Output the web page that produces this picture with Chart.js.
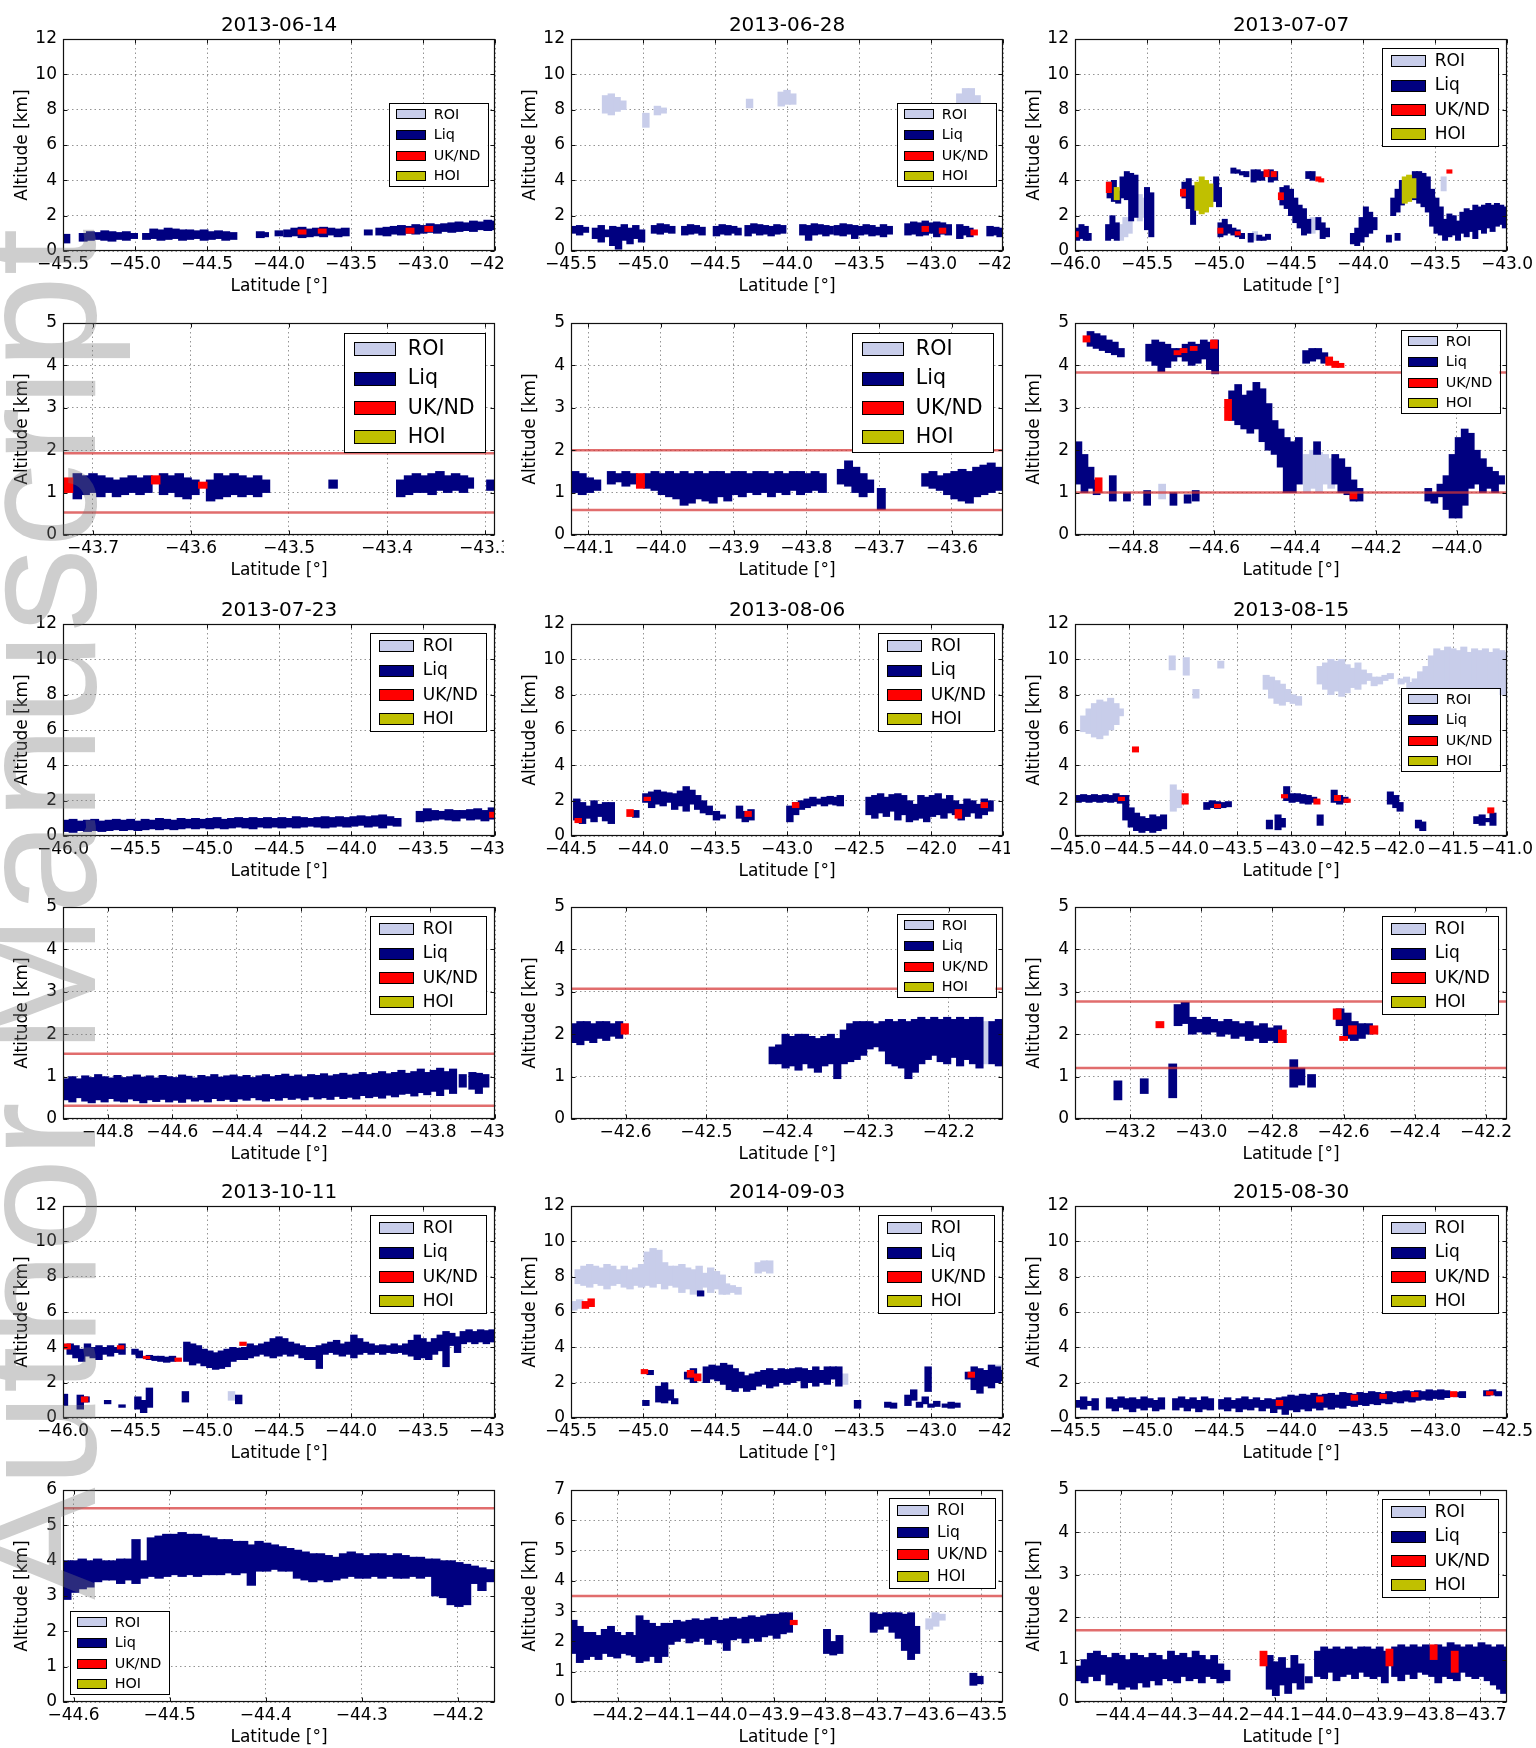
<!DOCTYPE html>
<html>
<head>
<meta charset="utf-8">
<title>Cloud phase classification along the flight tracks</title>
<script src="https://cdn.jsdelivr.net/npm/chart.js@4.4.1/dist/chart.umd.min.js"></script>
<style>
  html, body { margin: 0; padding: 0; background: #ffffff; }
  #page { position: relative; width: 1536px; height: 1748px; overflow: hidden; background: #ffffff; }
  #page canvas { position: absolute; }
  #wm {
    position: absolute; left: -48px; top: 1600px;
    transform-origin: 0 0; transform: rotate(-90deg);
    font-family: 'Liberation Sans', Arial, sans-serif; font-size: 169px; line-height: 1;
    color: rgba(120, 120, 120, 0.36); white-space: nowrap; pointer-events: none;
  }
</style>
</head>
<body>
<div id="page"><div id="wm">Author Manuscript</div></div>
<script>
// ---------------------------------------------------------------------------
// Panel descriptions: titles, axis ranges, tick values, reference altitudes
// ---------------------------------------------------------------------------
const PANEL_TITLES = ['2013-06-14', '2013-06-28', '2013-07-07', '', '', '',
                      '2013-07-23', '2013-08-06', '2013-08-15', '', '', '',
                      '2013-10-11', '2014-09-03', '2015-08-30', '', '', ''];

const X_MIN = [-45.5, -45.5, -46.0, -43.7306, -44.1234, -44.9434,
               -46.0, -44.5, -45.0, -44.939, -42.6676, -43.3545,
               -46.0, -45.5, -45.5, -44.611, -44.29, -44.4887];
const X_MAX = [-42.5, -42.5, -43.0, -43.2898, -43.5298, -43.8754,
               -43.0, -41.5, -41.0, -43.600, -42.1329, -42.141,
               -43.0, -42.5, -42.5, -44.1614, -43.458, -43.6483];

const X_TICKS = [
  [-45.5, -45.0, -44.5, -44.0, -43.5, -43.0, -42.5],
  [-45.5, -45.0, -44.5, -44.0, -43.5, -43.0, -42.5],
  [-46.0, -45.5, -45.0, -44.5, -44.0, -43.5, -43.0],
  [-43.7, -43.6, -43.5, -43.4, -43.3],
  [-44.1, -44.0, -43.9, -43.8, -43.7, -43.6],
  [-44.8, -44.6, -44.4, -44.2, -44.0],
  [-46.0, -45.5, -45.0, -44.5, -44.0, -43.5, -43.0],
  [-44.5, -44.0, -43.5, -43.0, -42.5, -42.0, -41.5],
  [-45.0, -44.5, -44.0, -43.5, -43.0, -42.5, -42.0, -41.5, -41.0],
  [-44.8, -44.6, -44.4, -44.2, -44.0, -43.8, -43.6],
  [-42.6, -42.5, -42.4, -42.3, -42.2],
  [-43.2, -43.0, -42.8, -42.6, -42.4, -42.2],
  [-46.0, -45.5, -45.0, -44.5, -44.0, -43.5, -43.0],
  [-45.5, -45.0, -44.5, -44.0, -43.5, -43.0, -42.5],
  [-45.5, -45.0, -44.5, -44.0, -43.5, -43.0, -42.5],
  [-44.6, -44.5, -44.4, -44.3, -44.2],
  [-44.2, -44.1, -44.0, -43.9, -43.8, -43.7, -43.6, -43.5],
  [-44.4, -44.3, -44.2, -44.1, -44.0, -43.9, -43.8, -43.7]
];

const ALT_TICKS_12 = [0, 2, 4, 6, 8, 10, 12];
const ALT_TICKS_5 = [0, 1, 2, 3, 4, 5];
const ALT_TICKS_6 = [0, 1, 2, 3, 4, 5, 6];
const ALT_TICKS_7 = [0, 1, 2, 3, 4, 5, 6, 7];
const Y_TICKS = [ALT_TICKS_12, ALT_TICKS_12, ALT_TICKS_12, ALT_TICKS_5, ALT_TICKS_5, ALT_TICKS_5,
                 ALT_TICKS_12, ALT_TICKS_12, ALT_TICKS_12, ALT_TICKS_5, ALT_TICKS_5, ALT_TICKS_5,
                 ALT_TICKS_12, ALT_TICKS_12, ALT_TICKS_12, ALT_TICKS_6, ALT_TICKS_7, ALT_TICKS_5];

// reference altitudes (km) drawn as red horizontal lines in the zoomed panels
const REF_ALT = [[], [], [], [1.93, 0.53], [2.0, 0.59], [3.83, 1.0],
                 [], [], [], [1.54, 0.31], [3.07], [2.77, 1.2],
                 [], [], [], [5.48], [3.5], [1.69]];

const CLASS_LABELS = ['ROI', 'Liq', 'UK/ND', 'HOI'];

// ---------------------------------------------------------------------------
// Classified profile columns: [latitude, bottom km, top km]
// ---------------------------------------------------------------------------
// 2013-06-14
const p1_liq = [[-45.48,0.45,0.95],
  [-45.36,0.55,1.0],[-45.31,0.6,1.1],[-45.26,0.65,1.05],[-45.21,0.6,1.15],[-45.16,0.55,1.1],[-45.11,0.65,1.05],[-45.06,0.6,1.1],[-45.01,0.7,1.0],
  [-44.92,0.65,1.0],[-44.87,0.7,1.25],[-44.82,0.6,1.2],[-44.77,0.65,1.3],[-44.72,0.7,1.25],[-44.67,0.6,1.2],[-44.62,0.65,1.2],[-44.57,0.7,1.15],[-44.52,0.6,1.2],[-44.47,0.65,1.1],[-44.42,0.7,1.15],[-44.37,0.6,1.1],[-44.32,0.65,1.05],
  [-44.13,0.75,1.1],[-44.10,0.8,1.05],[-44.0,0.85,1.15],
  [-43.94,0.8,1.2],[-43.89,0.85,1.3],[-43.84,0.75,1.35],[-43.79,0.8,1.25],[-43.74,0.85,1.3],[-43.69,0.8,1.35],[-43.64,0.9,1.3],[-43.59,0.8,1.25],[-43.54,0.85,1.3],
  [-43.38,0.9,1.2],
  [-43.30,0.9,1.3],[-43.25,0.85,1.35],[-43.20,0.95,1.4],[-43.15,0.9,1.45],[-43.10,1.0,1.4],[-43.05,0.95,1.5],[-43.00,1.0,1.45],[-42.95,1.05,1.55],[-42.90,1.0,1.5],[-42.85,1.1,1.55],[-42.80,1.05,1.6],[-42.75,1.1,1.65],[-42.70,1.15,1.6],[-42.65,1.1,1.7],[-42.60,1.2,1.65],[-42.55,1.15,1.75],[-42.51,1.2,1.7]];
const p1_uk = [[-43.84,0.95,1.2],[-43.70,1.0,1.25],[-43.09,1.0,1.3],[-42.96,1.1,1.4]];

// 2013-06-28
const p2_roi = [[-45.26,7.8,8.8],[-45.22,7.7,8.9],[-45.18,7.9,8.7],[-45.14,8.0,8.5],[-44.98,7.0,7.8],[-44.90,7.7,8.2],[-44.86,7.8,8.1],
  [-44.26,8.1,8.6],[-44.04,8.2,9.0],[-44.00,8.3,9.1],[-43.96,8.3,8.9],[-42.80,8.3,8.9],[-42.76,8.3,9.2],[-42.72,8.3,9.2],[-42.68,8.3,8.8]];
const p2_liq = [[-45.48,1.0,1.4],[-45.44,0.9,1.45],[-45.40,1.05,1.35],
  [-45.33,0.7,1.3],[-45.29,0.5,1.45],[-45.25,0.8,1.2],[-45.21,0.3,1.4],[-45.17,0.1,1.35],[-45.13,0.6,1.5],[-45.09,0.4,1.3],[-45.05,0.7,1.45],[-45.01,0.5,1.2],
  [-44.92,1.0,1.45],[-44.88,0.95,1.55],[-44.84,1.05,1.5],[-44.80,1.0,1.4],
  [-44.71,0.9,1.4],[-44.67,0.95,1.5],[-44.63,1.0,1.45],[-44.59,0.9,1.35],
  [-44.49,0.85,1.4],[-44.45,0.95,1.5],[-44.41,0.9,1.45],[-44.37,1.0,1.4],[-44.34,0.9,1.3],
  [-44.27,0.85,1.45],[-44.23,1.0,1.55],[-44.19,0.9,1.5],[-44.15,0.95,1.45],[-44.11,0.85,1.4],[-44.07,0.95,1.5],[-44.03,1.0,1.45],
  [-43.89,0.9,1.5],[-43.85,0.6,1.45],[-43.81,0.9,1.55],[-43.77,0.95,1.5],[-43.73,0.85,1.45],[-43.70,0.95,1.4],
  [-43.65,0.9,1.45],[-43.61,0.85,1.55],[-43.57,0.95,1.5],[-43.53,0.7,1.45],[-43.49,0.9,1.4],[-43.45,0.95,1.5],[-43.41,0.85,1.45],[-43.37,0.9,1.35],[-43.33,0.8,1.5],[-43.29,0.95,1.4],
  [-43.16,0.9,1.55],[-43.12,0.95,1.65],[-43.08,0.85,1.6],[-43.04,0.9,1.7],[-43.00,1.0,1.6],[-42.96,0.8,1.65],[-42.92,0.95,1.6],[-42.88,0.9,1.5],
  [-42.80,0.7,1.5],[-42.76,0.9,1.4],[-42.73,0.8,1.3],
  [-42.59,0.85,1.4],[-42.55,0.9,1.35],[-42.52,0.8,1.3]];
const p2_uk = [[-43.04,1.1,1.4],[-42.92,1.0,1.3],[-42.70,0.9,1.2]];

// 2013-07-07
const p3_roi = [[-45.68,0.6,1.5],[-45.65,0.8,1.9],[-45.62,1.0,1.7],[-45.55,1.7,3.2],[-45.52,1.9,3.0],[-44.75,0.6,1.1],[-44.35,1.0,1.9],[-43.44,3.4,4.2]];
const p3_liq = [[-45.985,0.6,1.3],[-45.955,0.7,1.5],[-45.925,0.6,1.4],[-45.905,0.6,1.0],
  [-45.77,0.6,1.5],[-45.74,0.7,2.0],[-45.71,0.6,1.6],
  [-45.76,3.0,3.9],[-45.73,2.8,4.0],[-45.70,2.7,3.4],[-45.67,3.0,4.2],[-45.64,2.9,4.5],[-45.61,1.7,4.4],[-45.58,1.9,4.3],
  [-45.50,1.2,3.6],[-45.47,0.8,3.3],
  [-45.24,3.0,3.9],[-45.21,2.4,4.1],[-45.18,1.5,3.7],[-45.02,2.8,4.2],[-45.00,2.5,3.6],
  [-44.99,0.8,1.6],[-44.96,0.9,1.8],[-44.93,1.0,1.5],[-44.90,0.9,1.3],[-44.87,0.8,1.2],[-44.84,0.7,1.0],[-44.78,0.5,1.0],[-44.72,0.6,0.9],[-44.69,0.6,0.8],[-44.66,0.65,0.95],
  [-44.90,4.4,4.7],[-44.87,4.4,4.6],[-44.84,4.3,4.5],[-44.81,4.2,4.5],[-44.76,3.9,4.6],[-44.73,4.0,4.6],[-44.70,4.0,4.5],[-44.64,3.9,4.6],[-44.61,4.0,4.5],[-44.38,4.1,4.5],[-44.35,4.0,4.5],
  [-44.56,2.6,3.6],[-44.53,2.4,3.7],[-44.50,2.0,3.5],[-44.47,1.6,3.0],[-44.44,1.3,2.6],[-44.41,0.9,2.4],[-44.38,1.0,1.8],[-44.31,1.2,1.9],[-44.28,0.7,1.6],[-44.25,0.8,1.3],
  [-44.07,0.4,1.0],[-44.04,0.3,1.3],[-44.01,0.5,1.9],[-43.98,0.8,2.5],[-43.95,1.0,2.2],[-43.92,1.2,1.9],[-43.82,0.5,0.9],[-43.76,0.6,1.0],
  [-43.79,2.0,3.0],[-43.76,2.2,3.5],[-43.73,2.6,4.0],[-43.64,2.9,4.5],[-43.61,2.7,4.5],[-43.58,2.5,4.4],[-43.55,2.2,4.2],[-43.52,1.4,3.5],[-43.49,1.0,3.0],[-43.46,0.9,2.5],
  [-43.43,0.6,1.8],[-43.40,0.8,2.1],[-43.37,0.9,2.0],[-43.34,0.6,1.7],[-43.31,1.0,2.2],[-43.28,0.8,2.4],[-43.25,1.1,2.3],[-43.22,0.7,2.6],[-43.19,1.2,2.5],[-43.16,1.0,2.6],[-43.13,1.3,2.7],[-43.10,1.1,2.6],[-43.07,1.4,2.7],[-43.04,1.5,2.6],[-43.015,1.3,2.5]];
const p3_uk = [[-45.995,0.8,1.1],[-45.765,3.3,3.9],[-45.25,3.1,3.5],[-44.99,1.0,1.3],[-44.87,0.9,1.1],[-44.67,4.2,4.6],[-44.62,4.2,4.5],
  [-44.31,3.95,4.2],[-44.29,3.9,4.1],[-44.57,2.9,3.3],[-43.40,4.4,4.6]];
const p3_hoi = [[-45.71,2.9,3.6],[-45.15,2.3,3.9],[-45.12,2.1,4.2],[-45.09,2.2,4.0],[-45.06,2.5,3.8],[-43.71,2.7,4.2],[-43.68,2.8,4.3],[-43.65,3.0,4.1]];

// 2013-06-14, detail
const p4_liq = [[-43.716,0.85,1.45],[-43.708,0.95,1.4],[-43.700,1.0,1.45],[-43.692,0.9,1.4],[-43.684,1.0,1.35],[-43.676,0.9,1.3],[-43.668,0.95,1.35],[-43.660,1.0,1.4],[-43.652,0.95,1.35],[-43.644,1.0,1.4],
  [-43.628,0.95,1.45],[-43.620,1.0,1.4],[-43.612,0.9,1.45],[-43.604,0.85,1.35],[-43.596,0.95,1.3],
  [-43.580,0.8,1.3],[-43.572,0.85,1.45],[-43.564,0.9,1.4],[-43.556,0.95,1.45],[-43.548,0.9,1.4],[-43.540,0.95,1.35],[-43.532,0.9,1.4],[-43.524,1.0,1.3],
  [-43.455,1.1,1.3],
  [-43.386,0.9,1.3],[-43.378,0.95,1.4],[-43.370,1.0,1.45],[-43.362,1.0,1.4],[-43.354,0.95,1.45],[-43.346,1.05,1.5],[-43.338,1.0,1.4],[-43.330,1.05,1.45],[-43.322,1.0,1.4],[-43.316,1.1,1.35],
  [-43.294,1.05,1.3]];
const p4_uk = [[-43.725,1.0,1.35],[-43.636,1.2,1.4],[-43.588,1.1,1.25]];

// 2013-06-28, detail
const p5_liq = [[-44.118,1.0,1.5],[-44.108,0.95,1.45],[-44.098,1.0,1.35],[-44.088,1.05,1.3],
  [-44.068,1.2,1.5],[-44.058,1.25,1.45],[-44.048,1.15,1.5],[-44.038,1.2,1.45],
  [-44.018,1.1,1.45],[-44.008,1.05,1.5],[-43.998,0.95,1.45],[-43.988,0.9,1.5],[-43.978,0.85,1.45],[-43.968,0.7,1.5],[-43.958,0.75,1.45],[-43.948,0.85,1.5],[-43.938,0.8,1.45],[-43.928,0.75,1.5],
  [-43.918,0.9,1.5],[-43.908,0.8,1.45],[-43.898,0.95,1.5],[-43.888,0.9,1.5],[-43.878,1.0,1.45],[-43.868,0.95,1.5],[-43.858,1.0,1.5],[-43.848,0.9,1.45],[-43.838,1.0,1.5],[-43.828,0.95,1.45],
  [-43.818,1.05,1.5],[-43.808,0.95,1.5],[-43.798,1.0,1.45],[-43.788,1.05,1.5],[-43.778,1.0,1.45],
  [-43.752,1.2,1.55],[-43.742,1.15,1.75],[-43.732,1.0,1.6],[-43.722,0.9,1.45],[-43.713,1.0,1.3],
  [-43.697,0.6,1.1],
  [-43.636,1.15,1.45],[-43.626,1.1,1.5],[-43.616,1.05,1.4],[-43.606,0.95,1.45],[-43.596,0.85,1.5],[-43.586,0.8,1.55],[-43.576,0.75,1.5],[-43.566,0.9,1.6],[-43.556,0.95,1.65],[-43.546,1.0,1.7],[-43.536,1.05,1.6]];
const p5_uk = [[-44.028,1.1,1.45]];

// 2013-07-07, detail
const p6_roi = [[-44.37,1.0,1.9],[-44.355,1.1,2.0],[-44.34,1.0,1.95],[-44.325,1.2,1.9],[-44.31,1.1,1.8],[-44.728,0.85,1.2]];
const p6_liq = [[-44.905,4.45,4.8],[-44.89,4.4,4.75],[-44.875,4.35,4.7],[-44.86,4.3,4.6],[-44.845,4.25,4.55],[-44.83,4.2,4.4],
  [-44.76,4.1,4.5],[-44.745,4.0,4.6],[-44.73,3.85,4.55],[-44.715,3.95,4.5],[-44.70,4.1,4.4],
  [-44.685,4.2,4.4],[-44.67,4.1,4.5],[-44.655,4.0,4.55],[-44.64,4.05,4.5],[-44.625,4.15,4.6],[-44.61,3.9,4.55],[-44.597,3.8,4.6],
  [-44.372,4.05,4.35],[-44.357,4.1,4.4],[-44.342,4.15,4.4],[-44.327,4.05,4.3],
  [-44.555,2.7,3.4],[-44.54,2.6,3.55],[-44.525,2.5,3.3],[-44.51,2.4,3.4],[-44.495,2.5,3.6],[-44.48,2.2,3.45],
  [-44.465,2.0,3.1],[-44.45,1.9,2.7],[-44.435,1.6,2.5],[-44.42,1.0,2.3],[-44.405,1.0,2.2],[-44.39,1.2,2.3],[-44.345,1.9,2.2],
  [-44.30,1.2,1.9],[-44.285,1.0,1.8],[-44.27,0.95,1.6],[-44.255,0.8,1.3],[-44.24,0.8,1.1],
  [-44.935,1.2,2.2],[-44.92,1.0,1.9],[-44.905,1.1,1.6],[-44.89,0.95,1.3],
  [-44.85,0.8,1.4],[-44.815,0.8,1.0],[-44.765,0.7,1.05],[-44.70,0.7,1.0],[-44.665,0.75,0.95],[-44.645,0.8,1.05],
  [-44.07,0.8,1.1],[-44.055,0.75,1.0],[-44.04,0.9,1.2],[-44.025,0.6,1.4],[-44.01,0.4,1.9],[-43.995,0.4,2.3],[-43.98,0.7,2.5],[-43.965,1.1,2.4],
  [-43.95,1.2,2.0],[-43.935,1.0,1.8],[-43.92,1.1,1.6],[-43.905,1.0,1.5],[-43.89,1.2,1.4]];
const p6_uk = [[-44.915,4.55,4.7],[-44.69,4.25,4.35],[-44.675,4.3,4.4],[-44.65,4.35,4.45],[-44.60,4.4,4.6],
  [-44.315,4.0,4.2],[-44.30,3.95,4.1],[-44.287,3.95,4.05],[-44.565,2.7,3.2],[-44.255,0.85,1.0],[-44.885,1.0,1.35]];

// 2013-07-23
const p7_liq = [[-45.98,0.25,0.9],[-45.93,0.2,0.95],[-45.88,0.3,0.85],[-45.83,0.25,0.9],[-45.78,0.3,0.95],[-45.73,0.25,0.85],[-45.68,0.3,0.9],[-45.63,0.35,0.95],
  [-45.58,0.3,0.9],[-45.53,0.35,0.95],[-45.48,0.3,0.85],[-45.43,0.35,0.95],[-45.38,0.4,0.9],[-45.33,0.35,1.0],[-45.28,0.4,0.95],[-45.23,0.35,0.9],
  [-45.18,0.4,1.0],[-45.13,0.45,0.95],[-45.08,0.4,1.0],[-45.03,0.45,0.95],[-44.98,0.4,1.0],[-44.93,0.45,1.05],[-44.88,0.4,0.95],[-44.83,0.45,1.0],
  [-44.78,0.5,1.05],[-44.73,0.45,1.0],[-44.68,0.4,1.05],[-44.63,0.5,1.0],[-44.58,0.45,1.05],[-44.53,0.5,1.0],[-44.48,0.45,1.05],[-44.43,0.5,1.0],
  [-44.38,0.45,1.1],[-44.33,0.5,1.05],[-44.28,0.55,1.0],[-44.23,0.5,1.05],[-44.18,0.45,1.1],[-44.13,0.5,1.05],[-44.08,0.55,1.1],[-44.03,0.5,1.05],
  [-43.98,0.55,1.1],[-43.93,0.6,1.15],[-43.88,0.5,1.1],[-43.83,0.55,1.15],[-43.78,0.45,1.2],[-43.73,0.6,1.1],[-43.68,0.55,1.0],
  [-43.52,0.8,1.4],[-43.47,0.85,1.55],[-43.42,0.9,1.45],[-43.37,0.95,1.4],[-43.32,0.9,1.5],[-43.27,0.85,1.45],[-43.22,1.0,1.45],[-43.17,0.9,1.5],
  [-43.12,0.95,1.55],[-43.07,0.85,1.45],[-43.02,0.95,1.6]];
const p7_uk = [[-43.01,1.05,1.35]];

// 2013-08-06
const p8_liq = [[-44.46,0.9,2.1],[-44.42,0.7,1.9],[-44.38,1.0,1.7],[-44.34,0.8,2.0],[-44.30,1.1,1.8],[-44.26,0.85,1.9],[-44.22,0.7,1.9],
  [-44.05,1.05,1.45],
  [-43.98,1.9,2.4],[-43.94,1.6,2.5],[-43.90,1.8,2.6],[-43.86,1.7,2.5],[-43.82,1.9,2.45],[-43.78,1.5,2.4],[-43.74,1.7,2.55],[-43.70,1.4,2.8],[-43.66,1.8,2.6],[-43.62,1.5,2.3],[-43.58,1.3,2.0],[-43.54,1.2,1.7],
  [-43.49,0.9,1.4],[-43.45,1.0,1.2],[-43.33,1.0,1.7],[-43.29,0.8,1.4],[-43.25,0.9,1.5],
  [-42.98,0.8,1.7],[-42.94,1.2,1.9],[-42.90,1.5,2.0],[-42.86,1.6,2.1],[-42.82,1.7,2.2],[-42.78,1.8,2.1],[-42.74,1.7,2.2],[-42.70,1.8,2.25],[-42.66,1.75,2.2],[-42.63,1.7,2.3],
  [-42.43,1.2,2.2],[-42.39,1.0,2.3],[-42.35,1.3,2.4],[-42.31,1.1,2.2],[-42.27,1.4,2.35],[-42.23,0.9,2.4],[-42.19,1.2,2.3],[-42.15,0.8,2.0],[-42.11,0.9,1.8],[-42.07,1.0,2.3],[-42.03,0.8,2.2],[-41.99,1.1,2.3],[-41.95,1.2,2.4],[-41.91,1.0,2.1],[-41.87,1.3,2.3],
  [-41.83,1.2,2.0],[-41.79,0.9,1.8],[-41.75,1.1,2.1],[-41.71,1.3,2.0],[-41.67,1.0,1.8],[-41.63,1.2,2.1],[-41.59,1.4,2.0]];
const p8_uk = [[-44.45,0.75,1.0],[-44.09,1.1,1.5],[-43.97,2.0,2.2],[-43.27,1.1,1.4],[-42.94,1.6,1.9],[-41.81,1.0,1.5],[-41.63,1.6,1.9]];

// 2013-08-15
const p9_roi = [[-44.92,5.9,6.8],[-44.87,5.8,7.2],[-44.82,5.6,7.5],[-44.77,5.5,7.7],[-44.72,5.7,7.6],[-44.67,6.0,7.8],[-44.62,6.3,7.5],[-44.58,6.8,7.2],
  [-44.10,9.4,10.2],[-43.97,9.1,10.1],[-43.88,7.8,8.3],[-43.65,9.5,9.9],
  [-43.23,8.3,9.1],[-43.18,7.8,9.0],[-43.13,7.5,8.8],[-43.08,7.4,8.6],[-43.03,7.6,8.3],[-42.98,7.5,8.0],[-42.93,7.4,7.9],
  [-42.73,8.6,9.6],[-42.68,8.3,9.8],[-42.63,8.0,10.0],[-42.58,8.2,9.9],[-42.53,7.9,10.0],[-42.48,8.1,9.7],[-42.43,8.4,9.5],[-42.38,8.3,9.8],
  [-42.33,8.6,9.4],[-42.28,8.8,9.2],[-42.23,8.5,9.0],[-42.18,8.6,9.0],[-42.13,8.8,9.1],[-42.08,8.9,9.2],[-41.98,8.6,8.9],[-41.93,8.7,9.0],
  [-41.90,8.0,8.7],[-41.85,8.0,8.9],[-41.80,8.0,9.3],[-41.75,8.0,9.6],[-41.70,8.0,10.2],[-41.65,8.0,10.6],[-41.60,8.0,10.5],[-41.55,8.0,10.7],
  [-41.50,8.0,10.6],[-41.45,8.0,10.5],[-41.40,8.0,10.7],[-41.35,8.0,10.4],[-41.30,8.0,10.6],[-41.25,8.0,10.5],[-41.20,8.0,10.6],[-41.15,8.0,10.4],
  [-41.10,8.0,10.6],[-41.05,8.0,10.5],[-41.02,8.0,10.4],
  [-44.09,1.4,2.9],[-44.04,1.6,2.6]];
const p9_liq = [[-44.97,1.9,2.3],[-44.92,1.95,2.35],[-44.87,1.9,2.3],[-44.82,1.95,2.35],[-44.77,1.9,2.3],[-44.72,1.95,2.35],[-44.67,1.9,2.3],[-44.62,1.95,2.4],[-44.58,1.85,2.3],
  [-44.53,0.9,2.3],[-44.48,0.5,1.6],[-44.43,0.3,1.3],[-44.38,0.2,1.1],[-44.33,0.3,1.0],[-44.28,0.2,1.2],[-44.23,0.3,1.1],[-44.18,0.4,1.2],
  [-43.78,1.5,1.9],[-43.73,1.6,2.0],[-43.68,1.55,1.95],[-43.63,1.6,1.9],[-43.58,1.65,1.95],
  [-43.20,0.4,0.9],[-43.12,0.35,1.2],[-43.08,0.5,1.0],
  [-43.04,2.0,2.8],[-42.99,1.9,2.4],[-42.94,1.95,2.4],[-42.89,1.85,2.35],[-42.84,1.8,2.3],[-42.79,1.9,2.2],
  [-42.73,0.6,1.2],[-42.60,1.9,2.6],[-42.55,1.8,2.3],[-42.50,1.9,2.2],
  [-42.08,1.8,2.5],[-42.03,1.6,2.3],[-41.99,1.4,1.9],[-41.82,0.45,0.9],[-41.78,0.3,0.8],
  [-41.28,0.7,1.1],[-41.23,0.6,1.2],[-41.18,0.8,1.0],[-41.13,0.6,1.3]];
const p9_uk = [[-44.44,4.75,5.05],[-44.57,2.0,2.2],[-43.98,1.8,2.4],[-43.68,1.6,1.8],[-43.06,2.15,2.35],[-42.76,1.8,2.1],[-42.57,2.0,2.3],[-42.48,1.9,2.1],[-41.15,1.3,1.6]];

// 2013-07-23, detail
const p10_liq = [[-44.93,0.45,0.95],[-44.91,0.40,1.00],[-44.89,0.50,0.95],[-44.87,0.42,1.02],[-44.85,0.38,0.98],[-44.83,0.45,1.05],[-44.81,0.40,1.00],[-44.79,0.48,0.97],
  [-44.77,0.42,1.03],[-44.75,0.40,0.98],[-44.73,0.47,1.00],[-44.71,0.43,1.04],[-44.69,0.38,0.99],[-44.67,0.45,1.02],[-44.65,0.41,0.97],[-44.63,0.46,1.03],
  [-44.61,0.40,1.00],[-44.59,0.44,0.98],[-44.57,0.39,1.04],[-44.55,0.47,1.01],[-44.53,0.42,0.97],[-44.51,0.45,1.03],[-44.49,0.40,1.00],[-44.47,0.48,1.05],
  [-44.45,0.43,0.99],[-44.43,0.46,1.02],[-44.41,0.41,1.04],[-44.39,0.47,1.00],[-44.37,0.44,1.03],[-44.35,0.50,0.98],[-44.33,0.45,1.02],[-44.31,0.42,1.05],
  [-44.29,0.48,1.00],[-44.27,0.44,1.03],[-44.25,0.50,1.06],[-44.23,0.46,1.01],[-44.21,0.49,1.04],[-44.19,0.45,1.00],[-44.17,0.52,1.05],[-44.15,0.47,1.03],
  [-44.13,0.50,1.07],[-44.11,0.46,1.02],[-44.09,0.53,1.05],[-44.07,0.48,1.08],[-44.05,0.51,1.04],[-44.03,0.47,1.06],[-44.01,0.55,1.10],[-43.99,0.50,1.05],
  [-43.97,0.53,1.08],[-43.95,0.49,1.12],[-43.93,0.56,1.07],[-43.91,0.52,1.10],[-43.89,0.58,1.15],[-43.87,0.60,1.08],[-43.85,0.54,1.12],[-43.83,0.62,1.18],
  [-43.81,0.57,1.10],[-43.79,0.65,1.15],[-43.77,0.55,1.20],[-43.75,0.70,1.12],[-43.73,0.60,1.18],[-43.70,0.75,1.05],[-43.67,0.70,1.10],[-43.65,0.60,1.08],[-43.63,0.75,1.05]];

// 2013-08-06, detail
const p11_roi = [[-42.155,1.3,2.3]];
const p11_liq = [[-42.664,1.8,2.25],[-42.656,1.75,2.3],[-42.648,1.85,2.3],[-42.640,1.8,2.25],[-42.632,1.9,2.3],[-42.624,1.85,2.3],[-42.616,1.95,2.25],[-42.608,1.9,2.3],
  [-42.418,1.3,1.7],[-42.410,1.3,1.75],
  [-42.402,1.2,2.0],[-42.394,1.25,1.95],[-42.386,1.15,2.0],[-42.378,1.3,2.0],[-42.370,1.2,1.95],[-42.362,1.1,1.9],[-42.354,1.25,1.95],[-42.346,1.3,2.0],
  [-42.338,0.95,1.9],
  [-42.330,1.3,2.1],[-42.322,1.35,2.25],[-42.314,1.4,2.3],[-42.306,1.5,2.3],
  [-42.298,1.65,2.3],[-42.290,1.7,2.25],[-42.282,1.6,2.3],
  [-42.274,1.3,2.35],[-42.266,1.25,2.3],[-42.258,1.2,2.35],[-42.250,0.95,2.3],[-42.242,1.1,2.35],
  [-42.234,1.3,2.4],[-42.226,1.4,2.35],[-42.218,1.5,2.4],[-42.210,1.35,2.35],[-42.202,1.3,2.4],[-42.194,1.45,2.35],[-42.186,1.25,2.4],[-42.178,1.4,2.35],[-42.170,1.3,2.4],[-42.162,1.2,2.4],
  [-42.146,1.3,2.3],[-42.138,1.25,2.35]];
const p11_uk = [[-42.601,2.0,2.25]];

// 2013-08-15, detail
const p12_liq = [[-43.065,2.2,2.7],[-43.045,2.25,2.75],
  [-43.025,2.0,2.4],[-43.005,2.05,2.35],[-42.985,2.0,2.4],[-42.965,2.05,2.35],[-42.945,1.95,2.3],[-42.925,2.0,2.35],[-42.905,1.9,2.3],
  [-42.885,1.95,2.25],[-42.865,1.85,2.3],[-42.845,1.9,2.2],[-42.825,1.8,2.25],[-42.805,1.85,2.15],[-42.785,1.8,2.2],
  [-43.234,0.45,0.9],[-43.16,0.6,0.95],[-43.08,0.5,1.3],
  [-42.74,0.75,1.4],[-42.72,0.8,1.2],[-42.69,0.75,1.05],
  [-42.61,2.2,2.6],[-42.59,1.9,2.5],[-42.57,1.85,2.3],[-42.55,1.9,2.25],[-42.53,2.0,2.25]];
const p12_uk = [[-43.116,2.15,2.3],[-42.772,1.8,2.1],[-42.618,2.35,2.6],[-42.60,1.85,1.95],[-42.575,2.0,2.2],[-42.515,2.0,2.2]];

// 2013-10-11
const p13_roi = [[-44.83,1.0,1.5]];
const p13_liq = [[-45.95,3.6,4.2],[-45.91,3.4,4.1],[-45.87,3.2,3.9],[-45.83,3.5,4.2],[-45.79,3.4,4.0],[-45.75,3.3,4.1],[-45.71,3.6,4.0],[-45.67,3.5,4.1],[-45.63,3.7,4.0],[-45.59,3.6,4.2],
  [-45.50,3.6,3.9],[-45.47,3.4,3.8],
  [-45.40,3.3,3.55],[-45.36,3.25,3.5],[-45.32,3.2,3.5],[-45.28,3.15,3.45],[-45.24,3.2,3.5],
  [-45.14,3.2,4.3],[-45.10,3.0,4.2],[-45.06,3.1,4.1],[-45.02,2.95,3.9],[-44.98,2.85,3.8],[-44.94,2.75,3.7],[-44.90,2.8,3.8],[-44.86,2.9,3.9],[-44.82,3.2,4.0],[-44.78,3.3,3.95],
  [-44.74,3.3,4.0],[-44.70,3.4,4.2],[-44.66,3.5,4.1],[-44.62,3.6,4.2],[-44.58,3.5,4.3],[-44.54,3.4,4.5],[-44.50,3.5,4.6],[-44.46,3.6,4.5],[-44.42,3.5,4.3],[-44.38,3.6,4.2],
  [-44.34,3.4,4.1],[-44.30,3.3,4.0],[-44.26,3.3,4.0],[-44.22,2.8,4.1],[-44.18,3.6,4.2],[-44.14,3.7,4.3],[-44.10,3.6,4.4],[-44.06,3.5,4.2],[-44.02,3.6,4.3],[-43.98,3.4,4.7],
  [-43.94,3.6,4.5],[-43.90,3.7,4.3],[-43.86,3.6,4.2],[-43.82,3.7,4.1],[-43.78,3.6,4.15],[-43.74,3.7,4.1],[-43.70,3.65,4.2],[-43.66,3.7,4.1],[-43.62,3.6,4.2],[-43.58,3.5,4.4],
  [-43.54,3.3,4.7],[-43.50,3.4,4.5],[-43.46,3.3,4.3],[-43.42,3.6,4.5],[-43.38,3.8,4.7],[-43.34,2.9,4.9],[-43.30,4.1,4.8],[-43.26,3.7,4.6],[-43.22,4.2,4.9],[-43.18,4.3,5.0],
  [-43.14,4.2,4.9],[-43.10,4.3,5.0],[-43.06,4.2,4.95],[-43.02,4.3,5.0],
  [-45.99,0.7,1.35],[-45.88,0.5,1.3],[-45.84,0.9,1.2],[-45.69,0.8,1.0],[-45.59,0.6,0.75],[-45.48,0.5,1.2],[-45.44,0.3,1.0],[-45.40,0.6,1.7],[-45.15,0.9,1.5],[-44.78,0.8,1.3]];
const p13_uk = [[-45.97,3.9,4.2],[-45.60,3.9,4.1],[-45.42,3.35,3.5],[-45.20,3.2,3.4],[-44.75,4.1,4.3],[-45.85,0.9,1.2]];

// 2014-09-03
const p14_roi = [[-45.45,7.6,8.4],[-45.41,7.5,8.6],[-45.37,7.4,8.7],[-45.33,7.6,8.6],[-45.29,7.5,8.5],[-45.25,7.3,8.7],[-45.21,7.5,8.6],[-45.17,7.6,8.4],[-45.13,7.4,8.6],[-45.09,7.3,8.4],[-45.05,7.5,8.5],[-45.01,7.4,8.7],
  [-44.97,7.5,9.4],[-44.93,7.4,9.6],[-44.89,7.6,9.5],[-44.85,7.3,8.8],[-44.81,7.5,8.6],
  [-44.77,7.4,8.6],[-44.73,7.1,8.7],[-44.69,7.3,8.5],[-44.65,7.0,8.4],[-44.61,7.2,8.6],[-44.57,7.4,8.2],[-44.53,7.1,8.5],[-44.49,7.3,8.3],[-44.45,7.0,8.1],
  [-44.42,7.0,7.6],[-44.38,7.1,7.5],[-44.34,7.0,7.4],
  [-44.20,8.2,8.8],[-44.16,8.3,8.9],[-44.12,8.2,8.9],
  [-45.48,6.1,6.6],[-45.44,6.2,6.7],
  [-43.60,1.9,2.5],[-42.53,2.3,3.0]];
const p14_liq = [[-44.60,6.9,7.2],
  [-44.95,2.45,2.7],[-44.98,0.7,1.0],
  [-44.89,0.9,1.8],[-44.85,0.85,2.0],[-44.81,1.0,1.6],[-44.78,0.8,1.1],
  [-44.69,2.2,2.6],[-44.65,2.0,2.8],
  [-44.56,2.0,2.9],[-44.52,2.2,3.0],[-44.48,2.1,2.95],[-44.44,1.9,3.1],[-44.40,1.6,3.0],[-44.36,1.5,2.8],[-44.32,1.7,2.6],[-44.28,1.5,2.4],[-44.24,1.6,2.5],[-44.20,1.8,2.6],
  [-44.16,1.9,2.7],[-44.12,1.7,2.8],[-44.08,1.8,2.7],[-44.04,2.0,2.8],[-44.00,1.9,2.75],[-43.96,2.0,2.8],[-43.92,2.1,2.85],[-43.88,1.7,2.8],[-43.84,2.0,2.7],
  [-43.80,1.8,2.9],[-43.76,2.0,2.7],[-43.72,1.9,2.9],[-43.68,2.2,2.9],[-43.64,1.8,2.9],
  [-43.51,0.55,1.0],[-43.30,0.6,0.9],[-43.26,0.55,0.85],
  [-43.16,0.7,1.3],[-43.12,1.0,1.6],[-43.08,0.6,0.9],[-43.04,0.8,1.2],[-43.00,0.6,0.8],[-42.96,0.65,0.95],[-43.02,1.5,2.9],
  [-42.90,0.6,0.8],[-42.86,0.55,0.9],[-42.82,0.6,0.85],
  [-42.74,2.2,2.6],[-42.70,1.6,2.9],[-42.66,1.4,2.8],[-42.62,1.8,2.7],[-42.58,1.7,3.0],[-42.54,2.0,2.9],[-42.51,2.1,2.7]];
const p14_uk = [[-45.40,6.2,6.6],[-45.36,6.3,6.75],[-44.99,2.5,2.75],[-44.67,2.3,2.7],[-44.62,2.1,2.5],[-42.72,2.3,2.6]];

// 2015-08-30
const p15_liq = [[-45.48,0.6,1.0],[-45.44,0.5,1.2],[-45.40,0.7,0.95],[-45.36,0.45,1.1],
  [-45.26,0.55,1.15],[-45.22,0.4,1.05],[-45.18,0.6,1.2],[-45.14,0.5,1.1],[-45.10,0.35,1.15],[-45.06,0.55,1.05],[-45.02,0.45,1.2],[-44.98,0.6,1.1],[-44.94,0.4,1.0],[-44.90,0.5,1.15],
  [-44.80,0.45,1.1],[-44.76,0.6,1.2],[-44.72,0.4,1.05],[-44.68,0.55,1.15],[-44.64,0.35,1.0],[-44.60,0.5,1.2],[-44.56,0.45,1.1],
  [-44.48,0.5,1.05],[-44.44,0.4,1.15],[-44.40,0.55,1.0],[-44.36,0.35,1.1],[-44.32,0.5,1.2],[-44.28,0.45,1.05],[-44.24,0.6,1.15],[-44.20,0.4,1.0],[-44.16,0.55,1.1],
  [-44.12,0.3,1.05],[-44.08,0.5,1.15],[-44.04,0.2,1.2],[-44.00,0.45,1.3],[-43.96,0.35,1.25],[-43.92,0.5,1.35],[-43.88,0.4,1.3],[-43.84,0.55,1.4],[-43.80,0.45,1.3],
  [-43.76,0.6,1.35],[-43.72,0.5,1.4],[-43.68,0.6,1.3],[-43.64,0.55,1.45],[-43.60,0.7,1.4],[-43.56,0.65,1.35],[-43.52,0.75,1.45],[-43.48,0.7,1.4],[-43.44,0.8,1.5],
  [-43.40,0.75,1.45],[-43.36,0.85,1.4],[-43.32,0.8,1.5],[-43.28,0.9,1.45],[-43.24,0.85,1.5],[-43.20,0.95,1.55],[-43.16,0.9,1.5],[-43.12,1.0,1.55],[-43.08,1.05,1.5],
  [-43.04,1.0,1.6],[-43.00,1.1,1.55],[-42.96,1.05,1.6],[-42.92,1.15,1.55],[-42.85,1.2,1.45],[-42.81,1.15,1.5],
  [-42.64,1.25,1.55],[-42.60,1.3,1.6],[-42.56,1.25,1.5]];
const p15_uk = [[-44.08,0.7,1.0],[-43.80,0.9,1.2],[-43.56,1.0,1.3],[-43.36,1.1,1.35],[-43.14,1.2,1.45],[-42.87,1.2,1.5],[-42.62,1.3,1.5]];

// 2013-10-11, detail
const p16_liq = [[-44.607,2.9,4.0],[-44.599,3.1,4.0],[-44.591,3.2,4.05],[-44.583,3.25,4.0],[-44.575,3.4,4.05],[-44.567,3.45,4.0],
  [-44.559,3.45,4.0],[-44.551,3.35,4.05],[-44.543,3.45,4.05],[-44.535,3.35,4.6],[-44.527,3.5,4.0],
  [-44.519,3.55,4.65],[-44.511,3.5,4.7],[-44.503,3.55,4.75],[-44.495,3.6,4.75],[-44.487,3.55,4.8],[-44.479,3.6,4.75],[-44.471,3.55,4.75],[-44.463,3.6,4.7],
  [-44.455,3.6,4.65],[-44.447,3.6,4.6],[-44.439,3.65,4.6],[-44.431,3.6,4.55],[-44.423,3.65,4.55],[-44.415,3.3,4.45],
  [-44.407,3.7,4.55],[-44.399,3.7,4.5],[-44.391,3.75,4.45],[-44.383,3.7,4.4],[-44.375,3.7,4.35],
  [-44.367,3.5,4.3],[-44.359,3.45,4.25],[-44.351,3.4,4.2],[-44.343,3.45,4.2],[-44.335,3.4,4.15],[-44.327,3.45,4.1],
  [-44.319,3.5,4.2],[-44.311,3.55,4.25],[-44.303,3.5,4.2],[-44.295,3.5,4.15],[-44.287,3.55,4.2],[-44.279,3.5,4.2],[-44.271,3.55,4.15],[-44.263,3.5,4.2],
  [-44.255,3.5,4.15],[-44.247,3.55,4.1],[-44.239,3.5,4.1],[-44.231,3.55,4.05],
  [-44.223,3.0,4.05],[-44.215,2.95,4.0],[-44.207,2.75,4.0],[-44.199,2.7,3.95],[-44.191,2.75,3.9],[-44.183,3.35,3.85],[-44.175,3.15,3.8],[-44.167,3.4,3.75]];

// 2014-09-03, detail
const p17_roi = [[-43.600,2.4,2.75],[-43.588,2.5,2.95],[-43.576,2.7,2.9]];
const p17_liq = [[-44.285,1.6,2.7],[-44.273,1.3,2.5],[-44.261,1.4,2.3],
  [-44.249,1.5,2.3],[-44.237,1.4,2.2],[-44.225,1.6,2.4],[-44.213,1.5,2.5],[-44.201,1.45,2.3],[-44.189,1.6,2.2],[-44.177,1.55,2.3],[-44.167,1.5,2.2],
  [-44.158,1.3,2.85],[-44.146,1.35,2.7],[-44.134,1.5,2.6],[-44.122,1.3,2.5],[-44.110,1.5,2.6],
  [-44.098,1.9,2.6],[-44.086,2.0,2.7],[-44.074,2.1,2.65],[-44.062,1.95,2.7],[-44.050,2.0,2.75],[-44.038,2.1,2.7],[-44.026,1.9,2.75],[-44.014,2.05,2.8],
  [-44.002,1.95,2.7],[-43.990,1.7,2.75],[-43.978,2.05,2.8],[-43.966,2.1,2.75],[-43.954,1.95,2.8],[-43.942,2.1,2.85],[-43.930,2.0,2.8],[-43.918,2.15,2.85],
  [-43.906,2.2,2.9],[-43.894,2.1,2.9],[-43.882,2.25,2.95],[-43.870,2.3,2.95],
  [-43.797,1.6,2.4],[-43.785,1.55,2.0],[-43.773,1.6,2.2],
  [-43.707,2.3,2.95],[-43.695,2.4,2.9],[-43.683,2.5,2.95],[-43.671,2.3,2.95],[-43.659,2.1,2.95],[-43.647,1.7,2.9],[-43.635,1.4,2.95],[-43.625,1.6,2.5],
  [-43.515,0.55,0.95],[-43.503,0.6,0.85]];
const p17_uk = [[-43.861,2.55,2.7]];

// 2015-08-30, detail
const p18_liq = [[-44.482,0.5,0.85],[-44.470,0.45,1.0],
  [-44.458,0.6,1.15],[-44.446,0.5,1.2],[-44.434,0.65,1.1],[-44.422,0.4,1.05],[-44.410,0.45,1.15],[-44.398,0.3,1.1],[-44.386,0.35,1.0],[-44.374,0.3,1.15],
  [-44.362,0.45,1.1],[-44.350,0.35,1.05],[-44.338,0.5,1.15],[-44.326,0.4,1.1],[-44.314,0.55,1.0],
  [-44.302,0.5,1.2],[-44.290,0.45,1.1],[-44.278,0.6,1.15],[-44.266,0.5,1.05],[-44.254,0.55,1.2],[-44.242,0.45,1.1],[-44.230,0.6,1.0],[-44.218,0.55,1.1],[-44.206,0.45,0.9],[-44.194,0.5,0.75],
  [-44.110,0.3,1.1],[-44.098,0.15,0.95],[-44.086,0.4,1.05],[-44.074,0.2,0.8],[-44.062,0.45,1.1],[-44.050,0.3,0.9],
  [-44.034,0.45,0.6],
  [-44.016,0.6,1.2],[-44.004,0.55,1.3],[-43.992,0.7,1.25],[-43.980,0.5,1.3],[-43.968,0.6,1.25],[-43.956,0.65,1.3],[-43.944,0.55,1.25],[-43.932,0.7,1.3],
  [-43.920,0.6,1.3],[-43.908,0.55,1.25],[-43.896,0.6,1.3],[-43.886,0.45,1.2],
  [-43.866,0.6,1.3],[-43.854,0.5,1.35],[-43.842,0.65,1.3],[-43.830,0.55,1.35],[-43.818,0.7,1.3],[-43.806,0.65,1.35],[-43.794,0.6,1.3],[-43.782,0.45,1.35],
  [-43.770,0.6,1.3],[-43.758,0.55,1.4],[-43.746,0.5,1.35],[-43.734,0.7,1.3],[-43.722,0.6,1.35],[-43.710,0.55,1.3],[-43.698,0.6,1.4],[-43.686,0.5,1.35],
  [-43.674,0.4,1.3],[-43.662,0.3,1.35],[-43.654,0.2,1.3]];
const p18_uk = [[-44.122,0.85,1.2],[-43.877,0.85,1.25],[-43.791,1.0,1.35],[-43.750,0.7,1.2]];

// series table per panel, in class order ROI, Liq, UK/ND, HOI
const SERIES = [
  [null, p1_liq, p1_uk, null], [p2_roi, p2_liq, p2_uk, null], [p3_roi, p3_liq, p3_uk, p3_hoi],
  [null, p4_liq, p4_uk, null], [null, p5_liq, p5_uk, null], [p6_roi, p6_liq, p6_uk, null],
  [null, p7_liq, p7_uk, null], [null, p8_liq, p8_uk, null], [p9_roi, p9_liq, p9_uk, null],
  [null, p10_liq, null, null], [p11_roi, p11_liq, p11_uk, null], [null, p12_liq, p12_uk, null],
  [p13_roi, p13_liq, p13_uk, null], [p14_roi, p14_liq, p14_uk, null], [null, p15_liq, p15_uk, null],
  [null, p16_liq, null, null], [p17_roi, p17_liq, p17_uk, null], [null, p18_liq, p18_uk, null]
];

// ---------------------------------------------------------------------------
// Layout and styling
// ---------------------------------------------------------------------------
const FONT = "'DejaVu Sans', 'Bitstream Vera Sans', Verdana, sans-serif";
const CLASS_COLORS = ['#c8cdea', '#000080', '#ff0000', '#c0c000'];
const PLOT_X = [63, 571, 1075];
const PLOT_Y = [39, 323, 624, 907, 1206, 1490];
const PLOT_W = 432, PLOT_H = 212;
const AXIS_W = 63, XAXIS_H = 50;
const RIGHT_ROOM = [9, 7, 29];
// column width of one profile in degrees latitude, per panel
const COL_DEG = [0.05, 0.04, 0.03, 0.008, 0.01, 0.015,
                 0.05, 0.04, 0.05, 0.02, 0.008, 0.02,
                 0.04, 0.04, 0.04, 0.008, 0.012, 0.012];
// legend placement: upper right, centre right, lower left; font size in px
const LEGEND_LOC = ['cr', 'cr', 'ur', 'ur', 'ur', 'ur', 'ur', 'ur', 'cr', 'ur', 'ur', 'ur', 'ur', 'ur', 'ur', 'll', 'ur', 'ur'];
const LEGEND_FS = [14.4, 14.4, 17, 20.6, 20.6, 14.4, 17, 17, 14.4, 17, 14.4, 17, 17, 17, 17, 14.4, 15.5, 17];

const fmtLat = v => (v < 0 ? '\u2212' : '') + Math.abs(v).toFixed(1);

// frame, inward tick marks and the in-axes legend
const panelDecor = {
  id: 'panelDecor',
  afterDatasetsDraw(chart, args, opts) {
    const { ctx, chartArea: a, scales } = chart;
    ctx.save();
    ctx.setLineDash([]);
    ctx.strokeStyle = '#111';
    ctx.lineWidth = 1;
    const L = Math.round(a.left) + 0.5, T = Math.round(a.top) + 0.5;
    const R = Math.round(a.right) - 0.5, B = Math.round(a.bottom) - 0.5;
    ctx.beginPath();
    scales.x.ticks.forEach(t => {
      const px = Math.round(scales.x.getPixelForValue(t.value)) + 0.5;
      if (px < L - 1 || px > R + 1) return;
      ctx.moveTo(px, B); ctx.lineTo(px, B - 4);
      ctx.moveTo(px, T); ctx.lineTo(px, T + 4);
    });
    scales.y.ticks.forEach(t => {
      const py = Math.round(scales.y.getPixelForValue(t.value)) + 0.5;
      ctx.moveTo(L, py); ctx.lineTo(L + 4, py);
      ctx.moveTo(R, py); ctx.lineTo(R - 4, py);
    });
    ctx.stroke();
    ctx.lineWidth = 1.2;
    ctx.strokeRect(L, T, R - L, B - T);
    ctx.restore();
  },
  afterDraw(chart, args, opts) {
    const { ctx, chartArea: a } = chart;
    const fs = opts.fs;
    ctx.save();
    ctx.font = fs + 'px ' + FONT;
    const tw = Math.max(...CLASS_LABELS.map(t => ctx.measureText(t).width));
    const pad = 0.5 * fs, hw = 2.0 * fs, hh = 0.62 * fs, gap = 0.6 * fs, row = 1.43 * fs, edge = 0.75 * fs;
    const w = pad + hw + gap + tw + pad;
    const h = 2 * edge + 3 * row;
    const m = 0.5 * fs;
    let x, y;
    if (opts.loc === 'll') { x = a.left + m; y = a.bottom - m - h; }
    else {
      x = a.right - m - w;
      y = opts.loc === 'cr' ? (a.top + a.bottom) / 2 - h / 2 : a.top + m;
    }
    x = Math.round(x); y = Math.round(y);
    ctx.fillStyle = '#fff';
    ctx.fillRect(x, y, w, h);
    ctx.strokeStyle = '#000';
    ctx.lineWidth = 1;
    ctx.strokeRect(x + 0.5, y + 0.5, Math.round(w), Math.round(h));
    CLASS_LABELS.forEach((label, j) => {
      const cy = y + edge + j * row;
      const hx = Math.round(x + pad), hy = Math.round(cy - hh / 2);
      ctx.fillStyle = CLASS_COLORS[j];
      ctx.fillRect(hx, hy, Math.round(hw), Math.round(hh));
      ctx.strokeStyle = '#000';
      ctx.strokeRect(hx + 0.5, hy + 0.5, Math.round(hw), Math.round(hh));
      ctx.fillStyle = '#000';
      ctx.textAlign = 'left';
      ctx.textBaseline = 'middle';
      ctx.fillText(label, x + pad + hw + gap, cy + 1);
    });
    ctx.restore();
  }
};

const page = document.getElementById('page');
const watermark = document.getElementById('wm');

function buildPanel(i) {
  const col = i % 3, row = Math.floor(i / 3);
  const left = PLOT_X[col] - AXIS_W;
  const top = PLOT_Y[row] - 39;
  const width = AXIS_W + PLOT_W + RIGHT_ROOM[col];
  const height = 39 + PLOT_H + XAXIS_H;
  const canvas = document.createElement('canvas');
  canvas.width = width; canvas.height = height;
  canvas.style.left = left + 'px'; canvas.style.top = top + 'px';
  canvas.style.width = width + 'px'; canvas.style.height = height + 'px';
  page.insertBefore(canvas, watermark);

  const xMin = X_MIN[i], xMax = X_MAX[i];
  const thickness = PLOT_W * COL_DEG[i] / (xMax - xMin) + 1;
  const datasets = [];
  SERIES[i].forEach((cols, k) => {
    if (!cols) return;
    datasets.push({
      type: 'bar',
      label: CLASS_LABELS[k],
      data: cols.map(c => ({ x: c[0], y: [c[1], c[2]] })),
      backgroundColor: CLASS_COLORS[k],
      borderWidth: 0,
      barThickness: thickness,
      grouped: false,
      order: 4 - k
    });
  });
  REF_ALT[i].forEach(v => {
    datasets.push({
      type: 'line',
      label: 'ref',
      data: [{ x: xMin, y: v }, { x: xMax, y: v }],
      borderColor: 'rgba(214, 52, 52, 0.72)',
      borderWidth: 2.5,
      pointRadius: 0,
      order: 0
    });
  });

  const title = PANEL_TITLES[i];
  const gridStyle = { color: 'rgba(0,0,0,0.42)', lineWidth: 1, drawTicks: false, offset: false };
  const borderStyle = { display: false, dash: [1.5, 3] };
  const tickFont = { family: FONT, size: 17 };

  new Chart(canvas, {
    type: 'bar',
    data: { datasets },
    plugins: [panelDecor],
    options: {
      responsive: false,
      animation: false,
      events: [],
      layout: { padding: { top: title ? 0 : 39, right: RIGHT_ROOM[col], left: 0, bottom: 0 } },
      plugins: {
        legend: { display: false },
        tooltip: { enabled: false },
        title: {
          display: !!title, text: title, fullSize: false, color: '#000',
          font: { family: FONT, size: 20, weight: 'normal' },
          padding: { top: 14, bottom: 1 }
        },
        panelDecor: { loc: LEGEND_LOC[i], fs: LEGEND_FS[i] }
      },
      scales: {
        x: {
          type: 'linear', position: 'bottom', min: xMin, max: xMax, offset: false,
          grid: gridStyle, border: borderStyle,
          ticks: { autoSkip: false, maxRotation: 0, minRotation: 0, padding: 3, color: '#000', font: tickFont, callback: v => fmtLat(v) },
          afterBuildTicks: s => { s.ticks = X_TICKS[i].map(v => ({ value: v })); },
          afterFit: s => { s.height = XAXIS_H; s.paddingLeft = 0; s.paddingRight = 0; },
          title: { display: true, text: 'Latitude [\u00b0]', color: '#000', font: { family: FONT, size: 17 }, padding: { top: 0, bottom: 4 } }
        },
        y: {
          type: 'linear', position: 'left', min: 0, max: Y_TICKS[i][Y_TICKS[i].length - 1],
          grid: gridStyle, border: borderStyle,
          ticks: { padding: 6, color: '#000', font: tickFont, callback: v => String(Math.round(v)) },
          afterBuildTicks: s => { s.ticks = Y_TICKS[i].map(v => ({ value: v })); },
          afterFit: s => { s.width = AXIS_W; s.paddingTop = 0; s.paddingBottom = 0; },
          title: { display: true, text: 'Altitude [km]', color: '#000', font: { family: FONT, size: 17 }, padding: { top: 12, bottom: 0 } }
        }
      }
    }
  });
}

for (let i = 0; i < 18; i++) buildPanel(i);
</script>
</body>
</html>
